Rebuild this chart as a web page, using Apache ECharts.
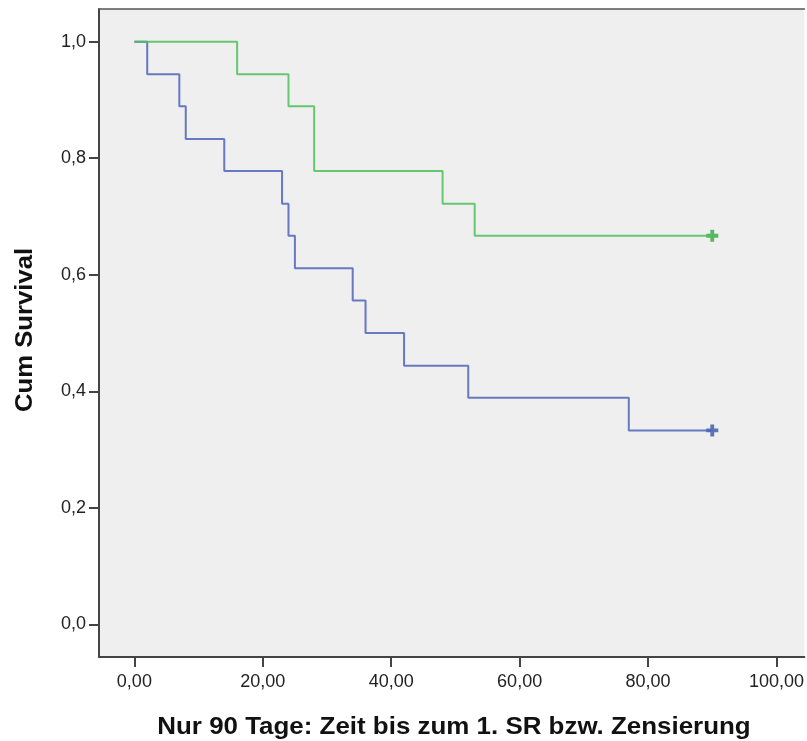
<!DOCTYPE html>
<html>
<head>
<meta charset="utf-8">
<script src="https://cdn.jsdelivr.net/npm/echarts@6/dist/echarts.min.js"></script>
<style>
  html, body { margin: 0; padding: 0; background: #fff; }
  #chart { width: 807px; height: 741px; }
</style>
</head>
<body>
<div id="chart"></div>
<script>
// Kaplan-Meier steps (time, cumulative survival)
const blueTimes = [0, 2, 7, 8, 14, 23, 24, 25, 34, 36, 42, 52, 77, 90];
const blueSurv = [1.000, 0.944, 0.889, 0.833, 0.778, 0.722, 0.667, 0.611, 0.556, 0.500, 0.444, 0.389, 0.333, 0.333];
const greenTimes = [0, 16, 24, 28, 48, 53, 90];
const greenSurv = [1.000, 0.944, 0.889, 0.778, 0.722, 0.667, 0.667];

// censored observations
const blueCensorT = [90];
const blueCensorS = [0.333];
const greenCensorT = [90];
const greenCensorS = [0.667];

const xTicks = [0, 20, 40, 60, 80, 100];
const yTicks = [0, 0.2, 0.4, 0.6, 0.8, 1.0];

const xTitle = 'Nur 90 Tage: Zeit bis zum 1. SR bzw. Zensierung';
const yTitle = 'Cum Survival';

const zip = (a, b) => a.map((v, i) => [v, b[i]]);
const plus = 'path://M3.4,0H6.6V3.4H10V6.6H6.6V10H3.4V6.6H0V3.4H3.4Z';
const font = 'Liberation Sans, Arial, sans-serif';

const chart = echarts.init(document.getElementById('chart'));

chart.setOption({
  animation: false,
  backgroundColor: '#ffffff',
  grid: {
    left: 99, top: 9, right: 0, bottom: 84,
    show: true,
    backgroundColor: '#efefef',
    borderWidth: 0
  },
  xAxis: [
    {
      type: 'value',
      min: -5.51,
      max: 104.35,
      splitLine: { show: false },
      axisLine: { onZero: false, lineStyle: { color: '#444', width: 2 } },
      axisTick: { customValues: xTicks, length: 10, lineStyle: { color: '#444', width: 2 } },
      axisLabel: {
        customValues: xTicks,
        margin: 16,
        color: '#222',
        fontFamily: font,
        fontSize: 18,
        formatter: v => v.toFixed(2).replace('.', ',')
      }
    },
    {
      // top frame line only
      type: 'value', position: 'top', min: -5.51, max: 104.35,
      splitLine: { show: false }, axisTick: { show: false }, axisLabel: { show: false },
      axisLine: { onZero: false, lineStyle: { color: '#555', width: 1.5 } }
    }
  ],
  yAxis: {
    type: 'value',
    min: -0.0558,
    max: 1.056,
    splitLine: { show: false },
    axisLine: { onZero: false, lineStyle: { color: '#444', width: 2 } },
    axisTick: { customValues: yTicks, length: 10, lineStyle: { color: '#444', width: 2 } },
    axisLabel: {
      customValues: yTicks,
      margin: 13,
      color: '#222',
      fontFamily: font,
      fontSize: 18,
      formatter: v => v.toFixed(1).replace('.', ',')
    }
  },
  graphic: [
    {
      type: 'text', x: 454, y: 727, scaleX: 1.08,
      style: { text: xTitle, fill: '#111', font: 'bold 24px ' + font, textAlign: 'center', textVerticalAlign: 'middle' }
    },
    {
      type: 'text', x: 25, y: 330, rotation: Math.PI / 2, scaleX: 1.07,
      style: { text: yTitle, fill: '#111', font: 'bold 24px ' + font, textAlign: 'center', textVerticalAlign: 'middle' }
    }
  ],
  series: [
    {
      type: 'line', step: 'end', data: zip(blueTimes, blueSurv),
      showSymbol: false, lineStyle: { color: '#4d64b8', width: 2, opacity: 0.85 }
    },
    {
      type: 'line', step: 'end', data: zip(greenTimes, greenSurv),
      showSymbol: false, lineStyle: { color: '#4cc158', width: 2, opacity: 0.85 }
    },
    {
      type: 'scatter', data: zip(blueCensorT, blueCensorS),
      symbol: plus, symbolSize: 12, itemStyle: { color: '#3a52ac' }
    },
    {
      type: 'scatter', data: zip(greenCensorT, greenCensorS),
      symbol: plus, symbolSize: 12, itemStyle: { color: '#2eaa3a' }
    }
  ]
});
</script>
</body>
</html>
